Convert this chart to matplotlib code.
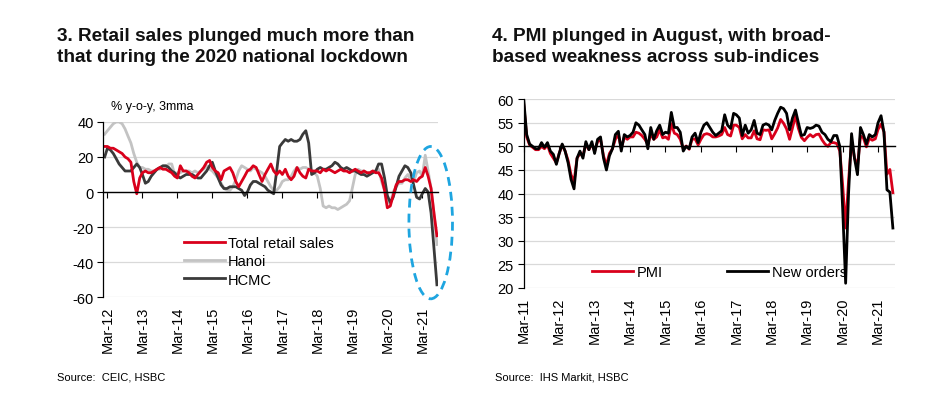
import pandas as pd
import matplotlib
matplotlib.use("Agg")
import matplotlib.pyplot as plt
import matplotlib.dates as mdates
from matplotlib.patches import Ellipse

plt.rcParams['font.family'] = ['Liberation Sans', 'DejaVu Sans']
plt.rcParams['axes.unicode_minus'] = False

# ---------------- data: chart 3 (monthly, Feb-12 .. Aug-21) ----------------
retail_start = '2012-02-01'
total_retail = [
    26, 26, 25, 25, 24, 23, 22, 20, 19, 17, 6,            # 2012 Feb-Dec
    -1, 8, 11, 12, 11, 11, 12, 13, 14, 13, 13, 12,        # 2013
    11, 9, 8, 15, 12, 12, 11, 9, 8, 10, 12, 14,           # 2014
    17, 18, 14, 12, 11, 7, 12, 13, 14, 11, 6, 3,          # 2015
    6, 9, 12, 13, 15, 14, 10, 6, 10, 13, 16, 12,          # 2016
    10, 12, 10, 13, 9, 7, 9, 14, 11, 9, 8, 13,            # 2017
    12, 12, 12, 11, 13, 12, 13, 12, 11, 12, 13, 12,       # 2018
    12, 11, 12, 13, 12, 11, 12, 11, 11, 12, 11, 11,       # 2019
    8, 1, -9, -8, -2, 4, 6, 6, 7, 7, 6, 7,                # 2020
    6, 8, 9, 14, 9, 2, -12, -25,                          # 2021 Jan-Aug
]
hanoi = [
    33, 35, 37, 39, 40, 40, 39, 36, 32, 28, 22,
    17, 14, 14, 13, 13, 12, 12, 13, 13, 14, 14, 16,
    16, 10, 11, 11, 12, 12, 12, 11, 12, 11, 12, 13,
    15, 13, 12, 10, 8, 5, 2, 1, 1, 3, 7, 12,
    15, 14, 13, 12, 14, 13, 12, 11, 9, 6, 3, 1,
    1, 3, 6, 7, 7, 9, 12, 14, 13, 14, 14, 13,
    12, 11, 9, 2, -8, -9, -8, -9, -9, -10, -9, -8,
    -7, -5, 2, 10, 13, 12, 12, 11, 11, 12, 12, 13,
    6, 1, -5, -7, 0, 3, 5, 5, 8, 10, 7, 6,
    11, 12, 9, 21, 12, 2, -12, -30,
]
hcmc = [
    20, 25, 24, 22, 19, 16, 14, 12, 12, 12, 14,
    16, 14, 10, 5, 6, 9, 11, 13, 14, 15, 15, 14,
    12, 11, 9, 8, 9, 10, 10, 10, 9, 8, 8, 10,
    12, 15, 17, 12, 8, 4, 2, 2, 3, 3, 3, 2,
    1, -2, 0, 4, 6, 6, 5, 4, 3, 1, 0, -1,
    12, 26, 28, 30, 29, 30, 29, 29, 30, 33, 35, 28,
    10, 11, 13, 14, 13, 13, 14, 15, 17, 16, 14, 13,
    14, 13, 12, 12, 11, 10, 10, 9, 10, 11, 12, 16,
    16, 8, -2, -6, -3, 3, 9, 12, 15, 14, 11, 4,
    -3, -4, -1, 2, 0, -12, -32, -53,
]

# ---------------- data: chart 4 (monthly, Mar-11 .. Aug-21) ----------------
pmi_start = '2011-03-01'
pmi = [
    59.0, 52.0, 50.3, 49.8, 49.3, 49.3, 50.0, 49.5, 50.3, 48.5,          # 2011 Mar-Dec
    47.5, 46.5, 48.5, 50.3, 49.0, 47.0, 44.0, 42.5, 47.5, 48.5, 48.0, 50.5,
    49.3, 50.5, 49.0, 51.0, 51.5, 48.0, 46.0, 48.5, 49.5, 51.5, 52.5, 49.5,
    52.0, 51.5, 52.0, 52.0, 53.0, 52.8, 52.3, 51.5, 50.5, 52.5, 51.5, 52.0,
    53.5, 51.8, 52.0, 51.5, 54.8, 52.8, 52.5, 51.5, 49.5, 50.1, 49.4, 51.5,
    51.6, 50.3, 51.5, 52.5, 52.7, 52.5, 52.0, 52.0, 52.2, 52.5, 54.0, 52.5,
    52.2, 54.5, 54.5, 54.0, 51.6, 52.5, 51.8, 51.8, 53.3, 51.6, 51.4, 53.5,
    53.4, 53.5, 51.6, 52.7, 53.9, 55.7, 54.9, 53.7, 51.5, 53.9, 56.5, 53.8,
    51.9, 51.2, 51.9, 52.5, 52.0, 52.5, 52.6, 51.4, 50.5, 50.0, 50.8, 50.8,
    50.6, 49.0, 41.9, 32.7, 42.7, 51.1, 47.6, 45.7, 52.2, 51.8, 49.9, 51.7,
    51.3, 51.6, 53.6, 54.7, 53.1, 44.1, 45.1, 40.2,                    # 2021 Jan-Aug
]
new_orders = [
    60.0, 52.5, 50.5, 50.0, 49.5, 49.5, 50.8, 49.8, 50.8, 49.0,
    48.3, 46.2, 48.5, 50.5, 49.0, 46.5, 43.0, 41.0, 47.5, 49.0, 47.5, 51.0,
    49.3, 51.0, 48.5, 51.5, 52.0, 47.5, 45.0, 48.0, 49.5, 52.5, 53.2, 49.0,
    52.5, 52.0, 52.3, 53.0, 55.0, 54.5, 53.5, 52.5, 49.5, 54.0, 51.5, 53.3,
    54.5, 52.5, 53.0, 52.8, 57.2, 54.0, 54.0, 53.0, 49.0, 50.0, 49.5, 52.0,
    52.8, 50.8, 53.0, 54.5, 55.0, 54.0, 53.0, 52.3, 52.8, 53.3, 56.7, 54.5,
    53.8, 57.0, 56.7, 56.0, 52.3, 54.5, 52.8, 53.5, 55.5, 52.8, 52.5, 54.5,
    54.8, 54.5, 53.5, 55.5, 57.0, 58.3, 58.0, 57.0, 53.5, 56.0, 57.7, 55.0,
    52.3, 52.5, 54.0, 53.8, 54.0, 54.5, 54.3, 53.0, 52.5, 51.5, 51.0, 52.3,
    52.3, 50.0, 37.0, 21.0, 40.0, 52.7, 47.5, 44.0, 54.0, 52.5, 50.5, 52.5,
    52.0, 52.5, 55.0, 56.5, 53.0, 40.8, 40.3, 32.7,
]

left_yticks = [-60, -40, -20, 0, 20, 40]
right_yticks = [20, 25, 30, 35, 40, 45, 50, 55, 60]

RED = '#D9001B'
HANOI_GREY = '#C3C3C3'
HCMC_GREY = '#3A3A3A'
GRID = '#D9D9D9'
BLUE = '#1EA5E0'

retail_dates = pd.date_range(retail_start, periods=len(total_retail), freq='MS')
pmi_dates = pd.date_range(pmi_start, periods=len(pmi), freq='MS')

fig = plt.figure(figsize=(9.47, 4.14), dpi=100)
ax1 = fig.add_axes([0.109, 0.280, 0.354, 0.423])
ax2 = fig.add_axes([0.553, 0.302, 0.392, 0.456])


def style(ax, base, yticks, xlim):
    ax.set_xlim(mdates.date2num(pd.Timestamp(xlim[0])), mdates.date2num(pd.Timestamp(xlim[1])))
    ax.set_ylim(yticks[0], yticks[-1])
    ax.set_yticks(yticks)
    ax.grid(axis='y', color=GRID, lw=0.9)
    ax.grid(axis='x', visible=False)
    ax.set_axisbelow(True)
    for s in ['top', 'right']:
        ax.spines[s].set_visible(False)
    ax.spines['bottom'].set_position(('data', base))
    ax.spines['bottom'].set_linewidth(1.0)
    ax.spines['left'].set_linewidth(0.9)
    ax.xaxis.set_major_locator(mdates.MonthLocator(bymonth=3))
    ax.tick_params(axis='x', direction='out', length=4, width=0.8, labelbottom=False)
    ax.tick_params(axis='y', direction='out', length=4, width=0.8, labelsize=10.5, pad=3)
    sec = ax.secondary_xaxis('bottom')
    sec.xaxis.set_major_locator(mdates.MonthLocator(bymonth=3))
    sec.xaxis.set_major_formatter(mdates.DateFormatter('%b-%y'))
    sec.tick_params(length=0, labelsize=10.5, labelrotation=90, pad=6)
    sec.spines['bottom'].set_visible(False)
    return sec


# ---------------- chart 3 ----------------
style(ax1, 0, left_yticks, ('2012-01-17', '2021-08-17'))
l_hanoi, = ax1.plot(retail_dates, hanoi, color=HANOI_GREY, lw=2.0, label='Hanoi')
l_hcmc, = ax1.plot(retail_dates, hcmc, color=HCMC_GREY, lw=2.0, label='HCMC')
l_tot, = ax1.plot(retail_dates, total_retail, color=RED, lw=2.0, label='Total retail sales')
ax1.legend(handles=[l_tot, l_hanoi, l_hcmc], loc='upper left', bbox_to_anchor=(0.24, 0.35),
           frameon=False, fontsize=10.5, handlelength=2.8, handletextpad=0.25,
           labelspacing=0.3, borderpad=0, borderaxespad=0)
ell_center = (mdates.date2num(pd.Timestamp('2021-05-28')), -17.5)
ell = Ellipse(ell_center, width=455, height=87, fill=False, edgecolor=BLUE, lw=2.0,
              linestyle=(0, (3.2, 2.2)), clip_on=False, zorder=5)
ax1.add_patch(ell)

# ---------------- chart 4 ----------------
style(ax2, 50, right_yticks, ('2011-03-01', '2021-08-22'))
l_pmi, = ax2.plot(pmi_dates, pmi, color=RED, lw=2.0, label='PMI')
l_no, = ax2.plot(pmi_dates, new_orders, color='black', lw=2.0, label='New orders')
ax2.legend(handles=[l_pmi, l_no], loc='center left', bbox_to_anchor=(0.185, 0.085), ncol=2,
           frameon=False, fontsize=10.5, handlelength=2.8, handletextpad=0.25,
           columnspacing=4.4, borderpad=0, borderaxespad=0)

# ---------------- text ----------------
fig.text(0.060, 1 - 28 / 414, '3. Retail sales plunged much more than\nthat during the 2020 national lockdown',
         fontsize=13.7, fontweight='bold', va='top', ha='left', linespacing=1.28, color='#111111')
fig.text(0.520, 1 - 28 / 414, '4. PMI plunged in August, with broad-\nbased weakness across sub-indices',
         fontsize=13.7, fontweight='bold', va='top', ha='left', linespacing=1.28, color='#111111')
fig.text(111 / 947, 1 - 107 / 414, '% y-o-y, 3mma', fontsize=9, va='center', ha='left',
         family=['Liberation Sans Narrow', 'Liberation Sans'])
fig.text(57 / 947, 1 - 378 / 414, 'Source:  CEIC, HSBC', fontsize=8, va='center', ha='left',
         family=['Liberation Sans Narrow', 'Liberation Sans'])
fig.text(495 / 947, 1 - 378 / 414, 'Source:  IHS Markit, HSBC', fontsize=8, va='center', ha='left',
         family=['Liberation Sans Narrow', 'Liberation Sans'])

fig.savefig('out.png', dpi=100, facecolor='white')
